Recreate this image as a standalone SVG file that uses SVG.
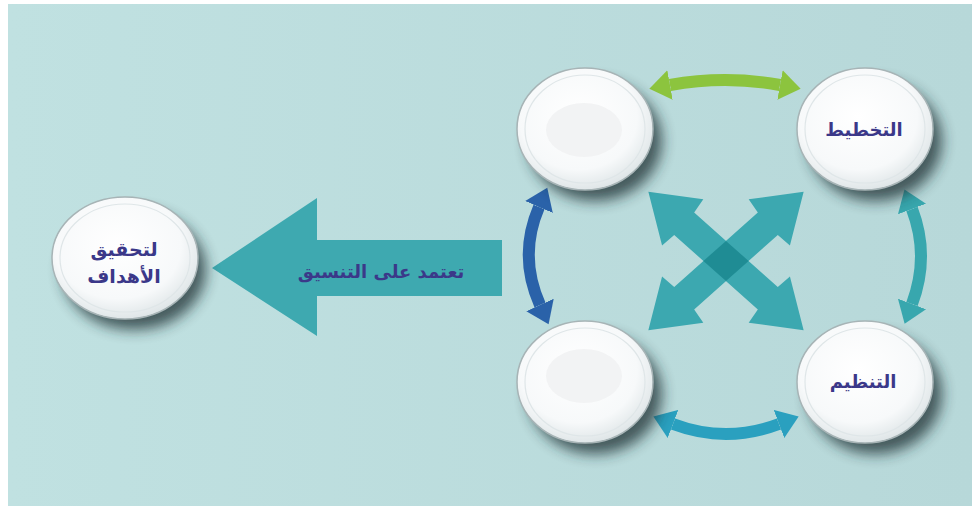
<svg xmlns="http://www.w3.org/2000/svg" width="976" height="510" viewBox="0 0 976 510">
<defs>
<style>
.plate{fill:url(#pg);stroke:#a7b4b6;stroke-width:1.5}
.rim{fill:none;stroke:#dfe6e8;stroke-width:1.2}
.inner{fill:#f2f3f4}
.shadow{fill:#1a2f31;opacity:.75;filter:url(#blur)}
.lbl{font-family:"DejaVu Sans",sans-serif;font-weight:bold;fill:#3b3889;text-anchor:middle}
.curve{fill:none;stroke-width:12}
.x{fill:#3ca8b0}
</style>
<linearGradient id="bg" x1="0" y1="0" x2="1" y2="0">
<stop offset="0" stop-color="#c0e1e1"/>
<stop offset="1" stop-color="#b7d8d9"/>
</linearGradient>
<radialGradient id="pg" cx="45%" cy="40%" r="62%">
<stop offset="0" stop-color="#ffffff"/>
<stop offset="0.7" stop-color="#f7f9fa"/>
<stop offset="1" stop-color="#dde4e6"/>
</radialGradient>
<filter id="blur" x="-30%" y="-30%" width="160%" height="160%">
<feGaussianBlur stdDeviation="7"/>
</filter>
<marker id="hGreen" viewBox="0 -16 22 32" refX="0" refY="0" markerWidth="22" markerHeight="32" markerUnits="userSpaceOnUse" orient="auto-start-reverse"><path d="M0,-15 L21,0 L0,15 z" fill="#8cc43e"/></marker>
<marker id="hBlue" viewBox="0 -16 22 32" refX="0" refY="0" markerWidth="22" markerHeight="32" markerUnits="userSpaceOnUse" orient="auto-start-reverse"><path d="M0,-15 L21,0 L0,15 z" fill="#2a62a9"/></marker>
<marker id="hTeal" viewBox="0 -16 22 32" refX="0" refY="0" markerWidth="22" markerHeight="32" markerUnits="userSpaceOnUse" orient="auto-start-reverse"><path d="M0,-15 L21,0 L0,15 z" fill="#38a7ae"/></marker>
<marker id="hCyan" viewBox="0 -16 22 32" refX="0" refY="0" markerWidth="22" markerHeight="32" markerUnits="userSpaceOnUse" orient="auto-start-reverse"><path d="M0,-15 L21,0 L0,15 z" fill="#2aa0bf"/></marker>
</defs>

<rect x="0" y="0" width="976" height="510" fill="#ffffff"/>
<rect x="8" y="4" width="964" height="502" fill="url(#bg)"/>

<g id="connectors">
<polygon id="main-arrow" points="212,268 317,198 317,240 502,240 502,296 317,296 317,336" fill="#3ea9b0"/>
<path d="M670,85 Q725,75 780,85" class="curve" stroke="#8cc43e" marker-start="url(#hGreen)" marker-end="url(#hGreen)"/>
<path d="M673,424 Q726,444 779,424" class="curve" stroke="#2aa0bf" marker-start="url(#hCyan)" marker-end="url(#hCyan)"/>
<path d="M539,207 Q518,256 540,305" class="curve" stroke="#2a62a9" marker-start="url(#hBlue)" marker-end="url(#hBlue)"/>
<path d="M912,209 Q930,256 912,304" class="curve" stroke="#38a7ae" marker-start="url(#hTeal)" marker-end="url(#hTeal)"/>
<g transform="translate(726,261)">
<polygon class="x" transform="rotate(41.7)" points="-104,0 -58,-31 -56,-15 56,-15 58,-31 104,0 58,31 56,15 -56,15 -58,31"/>
<polygon class="x" transform="rotate(-41.7)" points="-104,0 -58,-31 -56,-15 56,-15 58,-31 104,0 58,31 56,15 -56,15 -58,31"/>
<polygon points="0,-20.1 22.6,0 0,20.1 -22.6,0" fill="#1f8c94"/>
</g>
<text class="lbl" x="381" y="278" font-size="18">تعتمد على التنسيق</text>
</g>

<g id="node-goals">
<ellipse class="shadow" cx="134" cy="270" rx="72" ry="60"/>
<ellipse class="plate" cx="125" cy="258" rx="73" ry="61"/>
<ellipse class="rim" cx="125" cy="258" rx="65" ry="54"/>
<text class="lbl" x="124" y="256" font-size="19">لتحقيق</text>
<text class="lbl" x="124" y="283" font-size="19">الأهداف</text>
</g>

<g id="node-top-left">
<ellipse class="shadow" cx="595" cy="141" rx="67" ry="60"/>
<ellipse class="plate" cx="585" cy="129" rx="68" ry="61"/>
<ellipse class="rim" cx="585" cy="129" rx="60" ry="54"/>
<ellipse class="inner" cx="584" cy="130" rx="38" ry="27"/>
</g>

<g id="node-planning">
<ellipse class="shadow" cx="875" cy="141" rx="67" ry="60"/>
<ellipse class="plate" cx="865" cy="129" rx="68" ry="61"/>
<ellipse class="rim" cx="865" cy="129" rx="60" ry="54"/>
<text class="lbl" x="864" y="136" font-size="18">التخطيط</text>
</g>

<g id="node-bottom-left">
<ellipse class="shadow" cx="595" cy="394" rx="67" ry="60"/>
<ellipse class="plate" cx="585" cy="382" rx="68" ry="61"/>
<ellipse class="rim" cx="585" cy="382" rx="60" ry="54"/>
<ellipse class="inner" cx="584" cy="376" rx="38" ry="27"/>
</g>

<g id="node-organizing">
<ellipse class="shadow" cx="875" cy="394" rx="67" ry="60"/>
<ellipse class="plate" cx="865" cy="382" rx="68" ry="61"/>
<ellipse class="rim" cx="865" cy="382" rx="60" ry="54"/>
<text class="lbl" x="863" y="388" font-size="18">التنظيم</text>
</g>
</svg>
